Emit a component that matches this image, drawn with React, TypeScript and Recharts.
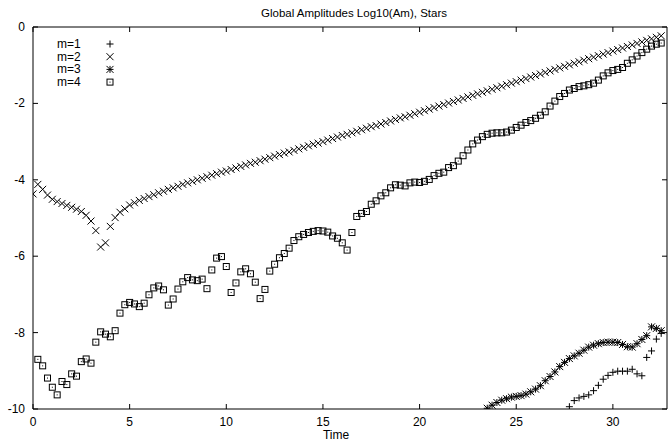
import React from 'react';
import { ReferenceArea, Scatter, ScatterChart, XAxis, YAxis } from 'recharts';

// sample times of the run (dt = 0.25)
const time = [
  0, 0.25, 0.5, 0.75, 1, 1.25, 1.5, 1.75, 2, 2.25, 2.5, 2.75, 3, 3.25, 3.5, 3.75,
  4, 4.25, 4.5, 4.75, 5, 5.25, 5.5, 5.75, 6, 6.25, 6.5, 6.75, 7, 7.25, 7.5, 7.75,
  8, 8.25, 8.5, 8.75, 9, 9.25, 9.5, 9.75, 10, 10.25, 10.5, 10.75, 11, 11.25, 11.5, 11.75,
  12, 12.25, 12.5, 12.75, 13, 13.25, 13.5, 13.75, 14, 14.25, 14.5, 14.75, 15, 15.25, 15.5, 15.75,
  16, 16.25, 16.5, 16.75, 17, 17.25, 17.5, 17.75, 18, 18.25, 18.5, 18.75, 19, 19.25, 19.5, 19.75,
  20, 20.25, 20.5, 20.75, 21, 21.25, 21.5, 21.75, 22, 22.25, 22.5, 22.75, 23, 23.25, 23.5, 23.75,
  24, 24.25, 24.5, 24.75, 25, 25.25, 25.5, 25.75, 26, 26.25, 26.5, 26.75, 27, 27.25, 27.5, 27.75,
  28, 28.25, 28.5, 28.75, 29, 29.25, 29.5, 29.75, 30, 30.25, 30.5, 30.75, 31, 31.25, 31.5, 31.75,
  32, 32.25, 32.5,
];

// log10 amplitudes per mode; each series begins at the time index noted
const m1Start = 111; // t = 27.75
const m1 = [
  -9.94, -9.78, -9.71, -9.67, -9.63, -9.52, -9.38, -9.22, -9.12, -9.04, -9.01, -9.01,
  -9.01, -8.96, -9.08, -9.13, -8.65, -8.48, -8.17, -8.02,
];

const m2Start = 0;
const m2 = [
  -4.37, -4.12, -4.25, -4.4, -4.51, -4.57, -4.62, -4.67, -4.72, -4.77, -4.83, -4.93,
  -5.08, -5.33, -5.76, -5.65, -5.22, -4.99, -4.85, -4.76, -4.66, -4.6, -4.54, -4.49,
  -4.44, -4.39, -4.34, -4.3, -4.25, -4.21, -4.17, -4.12, -4.08, -4.04, -4.0, -3.96,
  -3.92, -3.88, -3.84, -3.8, -3.77, -3.73, -3.69, -3.65, -3.61, -3.57, -3.54, -3.5,
  -3.46, -3.42, -3.38, -3.34, -3.3, -3.27, -3.23, -3.19, -3.15, -3.11, -3.07, -3.04,
  -3.0, -2.96, -2.92, -2.88, -2.84, -2.81, -2.77, -2.73, -2.69, -2.65, -2.61, -2.58,
  -2.54, -2.5, -2.46, -2.42, -2.38, -2.35, -2.31, -2.27, -2.23, -2.19, -2.15, -2.11,
  -2.07, -2.03, -1.99, -1.95, -1.91, -1.87, -1.83, -1.79, -1.75, -1.71, -1.67, -1.63,
  -1.59, -1.55, -1.51, -1.47, -1.43, -1.39, -1.35, -1.31, -1.27, -1.23, -1.19, -1.15,
  -1.11, -1.07, -1.03, -0.99, -0.95, -0.91, -0.87, -0.83, -0.79, -0.75, -0.71, -0.67,
  -0.63, -0.59, -0.55, -0.51, -0.47, -0.43, -0.39, -0.35, -0.31, -0.27, -0.23,
];

const m3Start = 94; // t = 23.5
const m3 = [
  -9.98, -9.9, -9.83, -9.77, -9.73, -9.69, -9.67, -9.65, -9.61, -9.55, -9.48, -9.39,
  -9.26, -9.15, -9.03, -8.89, -8.78, -8.68, -8.61, -8.54, -8.46, -8.38, -8.33, -8.29,
  -8.26, -8.25, -8.25, -8.26, -8.31, -8.37, -8.38, -8.29, -8.18, -8.08, -7.85, -7.89,
  -7.95,
];

const m4Start = 1; // t = 0.25
const m4 = [
  -8.7, -8.87, -9.19, -9.43, -9.63, -9.28, -9.36, -9.08, -9.14, -8.76, -8.69, -8.8,
  -8.25, -7.98, -8.04, -8.11, -7.95, -7.49, -7.27, -7.21, -7.25, -7.32, -7.23, -7.01,
  -6.83, -6.78, -6.88, -7.28, -7.12, -6.86, -6.67, -6.56, -6.62, -6.64, -6.6, -6.85,
  -6.36, -6.05, -6.01, -6.27, -6.95, -6.7, -6.41, -6.33, -6.46, -6.68, -7.11, -6.87,
  -6.39, -6.21, -6.04, -5.93, -5.79, -5.59, -5.49, -5.43, -5.38, -5.35, -5.33, -5.34,
  -5.37, -5.47, -5.53, -5.65, -5.84, -5.38, -4.96, -4.88, -4.83, -4.64, -4.55, -4.42,
  -4.34, -4.21, -4.13, -4.14, -4.16, -4.08, -4.06, -4.07, -4.04, -3.99, -3.89, -3.83,
  -3.8, -3.68, -3.63, -3.51, -3.37, -3.22, -3.06, -2.96, -2.87, -2.81, -2.78, -2.77,
  -2.77, -2.75, -2.7, -2.63, -2.57, -2.5, -2.45, -2.39, -2.31, -2.22, -2.07, -1.94,
  -1.82, -1.74, -1.65, -1.61, -1.56, -1.54, -1.51, -1.47, -1.39, -1.28, -1.2, -1.14,
  -1.11, -1.06, -0.95, -0.86, -0.76, -0.67, -0.58, -0.5, -0.45, -0.42,
];

const xTicks = [0, 5, 10, 15, 20, 25, 30];
const yTicks = [-10, -8, -6, -4, -2, 0];

const W = 668;
const H = 443;
const LEFT = 33;
const RIGHT = 667;
const TOP = 27;
const BOTTOM = 409;
const FONT = '"Liberation Sans", Arial, sans-serif';

const toPoints = (values: number[], start: number) =>
  values.map((v, i) => ({ t: time[start + i], v }));

type Kind = 'plus' | 'cross' | 'star' | 'box';

const Marker = ({ kind, cx, cy }: { kind: Kind; cx: number; cy: number }) => {
  const s = 3.5;
  const plus = (
    <>
      <line x1={cx - s} x2={cx + s} y1={cy} y2={cy} />
      <line x1={cx} x2={cx} y1={cy - s} y2={cy + s} />
    </>
  );
  const cross = (
    <>
      <line x1={cx - s} x2={cx + s} y1={cy - s} y2={cy + s} />
      <line x1={cx - s} x2={cx + s} y1={cy + s} y2={cy - s} />
    </>
  );
  return (
    <g stroke="#000" strokeWidth={1} fill="none">
      {kind === 'plus' && plus}
      {kind === 'cross' && cross}
      {kind === 'star' && (
        <>
          {plus}
          {cross}
        </>
      )}
      {kind === 'box' && (
        <>
          <rect x={cx - 3} y={cy - 3} width={6} height={6} />
          <rect x={cx - 0.5} y={cy - 0.5} width={1} height={1} fill="#000" stroke="none" />
        </>
      )}
    </g>
  );
};

const shapeFor = (kind: Kind) => (props: any) => <Marker kind={kind} cx={props.cx} cy={props.cy} />;

const XTick = (props: any) => {
  const x = props.payload?.coordinate ?? props.x;
  return (
    <g>
      <line x1={x} x2={x} y1={BOTTOM} y2={BOTTOM - 5} stroke="#000" />
      <line x1={x} x2={x} y1={TOP} y2={TOP + 5} stroke="#000" />
      <text x={x} y={BOTTOM + 17} textAnchor="middle" fontSize={12} fontFamily={FONT} fill="#000">
        {props.payload.value}
      </text>
    </g>
  );
};

const YTick = (props: any) => {
  const y = props.payload?.coordinate ?? props.y;
  return (
    <g>
      <line x1={LEFT} x2={LEFT + 5} y1={y} y2={y} stroke="#000" />
      <line x1={RIGHT} x2={RIGHT - 5} y1={y} y2={y} stroke="#000" />
      <text x={LEFT - 8} y={y + 4} textAnchor="end" fontSize={12} fontFamily={FONT} fill="#000">
        {props.payload.value}
      </text>
    </g>
  );
};

const legendItems: { label: string; kind: Kind }[] = [
  { label: 'm=1', kind: 'plus' },
  { label: 'm=2', kind: 'cross' },
  { label: 'm=3', kind: 'star' },
  { label: 'm=4', kind: 'box' },
];

// key drawn over the chart so it takes no room from the plot area
const KeyBox = () => (
  <svg width={130} height={95} style={{ position: 'absolute', left: 0, top: 0 }}>
    {legendItems.map((item, i) => (
      <g key={item.label}>
        <text x={57} y={48 + i * 12.7} fontSize={12} fontFamily={FONT} fill="#000">
          {item.label}
        </text>
        <Marker kind={item.kind} cx={110} cy={44 + i * 12.7} />
      </g>
    ))}
  </svg>
);

export default function App() {
  return (
    <div style={{ position: 'absolute', left: 0, top: 0, width: W, height: H, background: '#fff' }}>
      <ScatterChart width={W} height={H} margin={{ top: TOP, right: W - RIGHT, left: 0, bottom: 0 }}>
        <XAxis
          type="number"
          dataKey="t"
          domain={[0, 32.8]}
          ticks={xTicks}
          allowDataOverflow
          height={H - BOTTOM}
          axisLine={false}
          tickLine={false}
          tick={XTick}
        />
        <YAxis
          type="number"
          dataKey="v"
          domain={[-10, 0]}
          ticks={yTicks}
          allowDataOverflow
          width={LEFT}
          axisLine={false}
          tickLine={false}
          tick={YTick}
        />
        <ReferenceArea x1={0} x2={32.8} y1={-10} y2={0} fill="none" fillOpacity={0} stroke="#000" strokeWidth={1} />
        <Scatter name="m=1" data={toPoints(m1, m1Start)} shape={shapeFor('plus')} isAnimationActive={false} />
        <Scatter name="m=2" data={toPoints(m2, m2Start)} shape={shapeFor('cross')} isAnimationActive={false} />
        <Scatter name="m=3" data={toPoints(m3, m3Start)} shape={shapeFor('star')} isAnimationActive={false} />
        <Scatter name="m=4" data={toPoints(m4, m4Start)} shape={shapeFor('box')} isAnimationActive={false} />
        <text x={354} y={17} textAnchor="middle" fontSize={11.5} fontFamily={FONT} fill="#000">
          Global Amplitudes Log10(Am), Stars
        </text>
        <text x={336} y={439} textAnchor="middle" fontSize={12} fontFamily={FONT} fill="#000">
          Time
        </text>
      </ScatterChart>
      <KeyBox />
    </div>
  );
}
